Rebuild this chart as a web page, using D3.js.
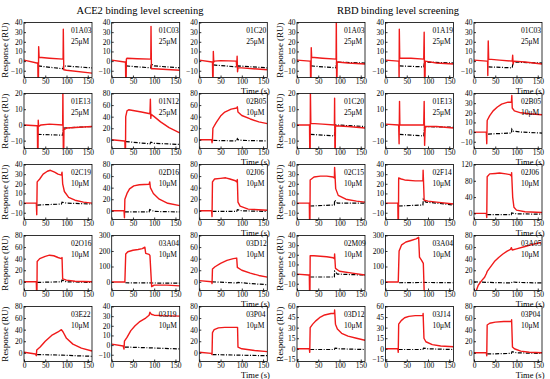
<!DOCTYPE html>
<html>
<head>
<meta charset="utf-8">
<script src="https://cdn.jsdelivr.net/npm/d3@7"></script>
<style>
  body { margin: 0; background: #fff; }
  text { font-family: "Liberation Serif", "Times New Roman", serif; fill: #000; }
</style>
</head>
<body>
<script>
// group titles and where they sit
const groupTitles = ["ACE2 binding level screening", "RBD binding level screening"];
const titleX = [140, 398];

// panel names, ACE2 first then RBD, row by row
const panelNames = [
  "01A03", "01C03", "01C20", "01E13", "01N12", "02B05", "02C19", "02D16", "02J06",
  "02O16", "03A04", "03D12", "03E22", "03J19", "03P04",
  "01A03", "01A19", "01C03", "01C20", "01E13", "02B05", "02C15", "02F14", "02J06",
  "02M09", "03A04", "03A05", "03D12", "03J14", "03P04"
];
const concentrations = [
  "25μM", "25μM", "25μM", "25μM", "25μM", "10μM", "10μM", "10μM", "10μM",
  "10μM", "10μM", "10μM", "10μM", "10μM", "10μM",
  "25μM", "25μM", "25μM", "25μM", "25μM", "10μM", "10μM", "10μM", "10μM",
  "10μM", "10μM", "10μM", "10μM", "10μM", "10μM"
];
// top of each y axis
const yMax = [
  40, 40, 40, 20, 80, 80, 40, 80, 80, 80, 300, 80, 80, 40, 80,
  40, 40, 40, 20, 20, 40, 40, 40, 120, 40, 300, 80, 60, 60, 80
];
const xTicks = [0, 50, 100, 150];

// sample response (red), [time, RU]
const redSeries = [
  // ACE2
  [[0,1],[30,-2],[32.5,-2],[33,-20],[34,-20],[34.5,15],[35.5,4],[60,3],[92,2],[92.5,33],[93.5,-9],[100,-9.5],[160,-12.5]],
  [[0,1],[30,-1],[32.5,-1],[33,-20],[34,-20],[34.5,2],[36,3],[60,2.5],[92,2],[92.5,36],[93.5,-8],[100,-8],[160,-9.5]],
  [[0,1],[30,-1],[31,-1],[31.5,-16],[32.5,-16],[33,10],[34,-1],[36,0],[50,0.5],[87,0],[88,-6],[89,5],[90,-11],[91,-7],[100,-7],[160,-9]],
  [[0,0],[30,-0.5],[31.5,-0.5],[32,-17],[33,-17],[33.5,3],[34.5,-1],[40,0],[60,0.5],[91,0],[91.5,22],[92.5,-17],[93.5,-17],[94,-3],[100,-2],[160,-1]],
  [[0,0],[30,-2],[31,-2],[31.5,-17],[32.5,-17],[33,40],[36,50],[40,52],[70,48],[90,45],[91,70],[92,37],[93,44],[100,40],[115,31],[135,21],[160,12]],
  [[0,0],[29,0],[30,-5],[31,0],[32,20],[40,30],[50,41],[60,48],[75,53],[88,55],[89.5,57],[91,48],[100,42],[120,36],[140,31],[160,28]],
  [[0,0],[29,0],[30,-12],[31,22],[37,25],[45,30],[55,33],[62,34],[72,32],[80,30],[88,29],[89.5,32],[91,20],[95,12],[105,6],[120,3],[140,1],[160,0]],
  [[0,0],[29,0],[30,-12],[31,20],[36,30],[42,38],[52,43],[65,45],[88,46],[89.5,50],[91,40],[98,30],[112,20],[132,13],[160,9]],
  [[0,0],[29,0],[30,-10],[31,50],[36,55],[50,56],[62,57],[72,55],[85,52],[88,50],[89.5,54],[91,15],[96,8],[115,3],[160,1]],
  [[0,0],[29,0],[29.5,-17],[30.5,-17],[31,35],[37,40],[50,44],[60,46],[70,45],[80,42],[88,40],[89.5,42],[91,5],[100,3],[120,1],[160,0]],
  [[0,0],[31,0],[33,180],[38,195],[50,205],[62,210],[72,215],[78,225],[80,185],[88,178],[90,170],[94,-30],[100,-20],[130,-20],[160,-25]],
  [[0,2],[29,0],[30,-3],[31,22],[37,26],[50,32],[65,37],[80,40],[88,41],[89.5,25],[100,20],[120,15],[140,11],[160,8]],
  [[0,1],[27,-2],[29,-5],[30,5],[38,10],[50,20],[65,30],[80,36],[88,40],[92,36],[100,25],[115,15],[135,8],[160,3]],
  [[0,1],[27,-1],[29,-4],[30,4],[36,8],[45,15],[55,20],[65,24],[80,28],[88,31],[90,34],[93,32],[100,31],[120,30.5],[160,30]],
  [[0,1],[28,-1],[30,-3],[31,35],[35,40],[45,43],[60,44],[80,44],[90,44],[91,10],[100,7],[130,4],[160,2]],
  // RBD
  [[0,1],[30,0],[31.5,0],[32,-20],[33,-20],[33.5,14],[34.5,4],[60,3],[92,2],[92.5,45],[93.2,-20],[94,-20],[94.5,-1],[120,-2],[160,-3]],
  [[0,1],[30,0],[31.5,0],[32,-20],[32.5,33],[33.5,3],[60,3],[90,2],[91,30],[91.8,-20],[93,-20],[93.5,0],[120,-2],[160,-3]],
  [[0,1],[30,0],[32,0],[32.5,-15],[33.5,21],[34.5,2],[60,1],[90,0],[91,6],[92,-3],[94,0],[120,-1],[160,-3]],
  [[0,0],[29.5,0],[30,-17],[31,-17],[31.5,22],[32.5,1],[60,0.5],[88,0],[88.5,17],[89.2,-17],[90,-17],[90.5,-0.5],[120,-1],[160,-2]],
  [[0,0.5],[31,0],[32,-12],[33,15],[33.8,0],[60,0],[90,0],[91,15],[92,-13],[93.5,-1],[120,-1],[160,-2]],
  [[0,0],[29,0],[30,-12],[31,12],[37,17],[45,22],[55,26],[65,29],[80,31],[88,31],[89,38],[90,25],[95,22],[110,20],[130,19],[160,18]],
  [[0,0],[29,0],[29.5,-18],[30.5,-18],[31,24],[40,27],[55,28],[70,28],[85,27],[88,26],[88.5,37],[91,15],[97,8],[115,4],[140,2],[160,1]],
  [[0,0],[29,0],[29.5,-18],[30.5,-18],[31,26],[37,25],[45,24],[70,23],[88,23],[88.5,34],[91,3],[100,2],[120,1],[160,-1]],
  [[0,0],[29,0],[30,-10],[31,90],[37,97],[50,98],[60,99],[75,97],[85,95],[88,92],[88.5,100],[91,40],[94,15],[100,8],[120,4],[160,2]],
  [[0,0],[27,-1],[29,-1],[29.5,-18],[30.5,-18],[31,19],[40,19],[70,18],[85,17],[88,16],[88.5,21],[90.5,6],[100,3],[130,1],[160,-1]],
  [[0,0],[30,0],[32,200],[38,240],[48,258],[60,268],[72,278],[78,288],[80,160],[85,140],[89,120],[91,-60],[100,-60]],
  [[4,-18],[10,-6],[18,2],[25,8],[29,14],[31,18],[38,25],[48,35],[58,42],[68,48],[78,53],[86,56],[88,59],[90,55],[100,57],[120,61],[140,65],[158,68]],
  [[0,0],[29,0],[30,-5],[31,30],[37,35],[45,40],[55,45],[65,48],[80,50],[88,50],[88.5,55],[90.5,35],[95,28],[105,22],[120,18],[140,15],[160,12]],
  [[0,0],[29,0],[30,-5],[31,35],[37,40],[45,44],[55,46],[70,47],[88,47],[88.5,50],[90.5,15],[95,10],[110,6],[130,4],[160,3]],
  [[0,0],[29,0],[30,-5],[31,48],[37,51],[50,53],[70,54],[88,54],[88.5,57],[90.5,10],[95,7],[110,3],[130,1],[160,0]]
];

// reference channel (black dash-dot), [time, RU]
const blackSeries = [
  // ACE2
  [[33,-5],[92,-8],[93,-5],[160,-7]],
  [[34,-5],[92,-7],[93,-3],[100,-5],[160,-7]],
  [[33,-4],[88,-6],[91,-5],[160,-7]],
  [[32,-6],[91,-6.5],[93,-2],[160,-1]],
  [[33,-3],[90,-7],[92,-4],[100,-6],[160,-8]],
  [[33,-1],[88,-2],[89.5,2],[92,0],[100,-1],[160,-2]],
  [[31,-2],[88,-1],[89.5,1],[100,0],[160,-1]],
  [[31,-2],[88,-2],[89.5,2],[100,-1],[160,-2]],
  [[31,-1],[88,-1],[89.5,2],[100,0],[160,-1]],
  [[31,-1],[88,0],[89.5,3],[100,0],[160,-1]],
  [[32,-5],[160,-8]],
  [[30,0],[89,-2],[91,-1],[120,-3],[160,-5]],
  [[31,-3],[90,-4],[120,-5],[160,-6]],
  [[31,-2],[100,-3],[160,-4]],
  [[31,-3],[90,-4],[160,-5]],
  // RBD
  [[33,-5],[92,-7],[93,-1],[160,-2]],
  [[33,-5],[90,-6],[92,-1],[160,-2]],
  [[34,-6],[90,-7],[92,-1],[160,-2]],
  [[32,-6],[88,-7],[90.5,0],[160,-1]],
  [[33,-6],[90,-7],[92,-1],[160,-1.5]],
  [[33,-2],[88,-1],[89,3],[92,1],[110,0],[160,-1]],
  [[31,-3],[88,-2],[88.5,3],[95,0],[160,0]],
  [[31,-3],[88,-2],[89,4],[95,1],[120,0],[160,-2]],
  [[31,-3],[88,-3],[88.5,1],[100,-1],[160,-2]],
  [[31,-3],[88,-3],[88.5,3],[95,0],[160,-1]],
  [[32,-5],[90,-3],[160,-5]],
  [[0,0],[30,-1],[88,-2],[90,0],[100,-1],[160,-2]],
  [[31,-1],[88,-1],[89.5,1],[100,0],[160,-1]],
  [[31,-1],[88,-1],[89.5,1],[100,0],[160,-1]],
  [[31,-2],[88,-1],[89.5,2],[100,0],[160,-1]]
];

// layout
const W = 550, H = 379;
const colLeft = [[24, 111.7, 199.3], [297, 385.5, 474]];
const panelW = 68, panelH = 55;
const rowTop = r => 22.5 + r * 71;

// axis settings for each y top
function yAxisSpec(top) {
  if (top === 20) return { min: -15, ticks: [-10, 0, 10, 20] };
  if (top === 40) return { min: -17, ticks: [-10, 0, 10, 20, 30, 40] };
  if (top === 60) return { min: -18, ticks: [-15, 0, 15, 30, 45, 60] };
  if (top === 80) return { min: -15, ticks: [0, 20, 40, 60, 80] };
  if (top === 120) return { min: -15, ticks: [0, 40, 80, 120] };
  return { min: -55, ticks: [0, 100, 200, 300] };
}

const svg = d3.select("body").append("svg")
  .attr("width", W)
  .attr("height", H);

// titles
svg.selectAll(".title")
  .data(groupTitles)
  .enter()
  .append("text")
  .attr("x", (d, g) => titleX[g])
  .attr("y", 14)
  .attr("text-anchor", "middle")
  .style("font-size", "10.5px")
  .text(d => d);

const line = d3.line();

panelNames.forEach((name, i) => {
  const g = i < 15 ? 0 : 1;
  const k = i % 15;
  const row = Math.floor(k / 3), col = k % 3;
  const x0 = colLeft[g][col], y0 = rowTop(row);
  const spec = yAxisSpec(yMax[i]);

  const x = d3.scaleLinear().domain([0, 160]).range([0, panelW]);
  const y = d3.scaleLinear().domain([spec.min, yMax[i]]).range([panelH, 0]);

  const p = svg.append("g").attr("transform", `translate(${x0},${y0})`);

  p.append("clipPath").attr("id", "clip" + i)
    .append("rect").attr("width", panelW).attr("height", panelH);

  const plot = p.append("g").attr("clip-path", `url(#clip${i})`);

  plot.append("path")
    .attr("d", line(blackSeries[i].map(d => [x(d[0]), y(d[1])])))
    .attr("fill", "none")
    .attr("stroke", "#000")
    .attr("stroke-width", 1.2)
    .attr("stroke-dasharray", "4,1.5,1,1.5");

  plot.append("path")
    .attr("d", line(redSeries[i].map(d => [x(d[0]), y(d[1])])))
    .attr("fill", "none")
    .attr("stroke", "#f01a1a")
    .attr("stroke-width", 1.4)
    .attr("stroke-linejoin", "round");

  // frame
  p.append("rect")
    .attr("width", panelW).attr("height", panelH)
    .attr("fill", "none").attr("stroke", "#000").attr("stroke-width", 0.8);

  // ticks point into the plot
  const ya = p.append("g")
    .call(d3.axisLeft(y).tickValues(spec.ticks).tickSize(-2).tickSizeOuter(0).tickPadding(1.5));
  const xa = p.append("g")
    .attr("transform", `translate(0,${panelH})`)
    .call(d3.axisBottom(x).tickValues(xTicks).tickSize(-2).tickSizeOuter(0).tickPadding(1.2));
  [ya, xa].forEach(a => {
    a.select(".domain").remove();
    a.selectAll("line").attr("stroke", "#000").attr("stroke-width", 0.8);
    a.selectAll("text").style("font-size", "7.5px").style("font-family", "'Liberation Serif', serif");
  });

  // labels in the corner
  p.append("text").attr("x", panelW - 21).attr("y", 10)
    .style("font-size", "7.5px").text(name);
  p.append("text").attr("x", panelW - 21).attr("y", 21)
    .style("font-size", "7.5px").text(concentrations[i]);

  if (col === 0) {
    p.append("text")
      .attr("transform", `translate(${g === 0 ? -16 : -14},${panelH / 2}) rotate(-90)`)
      .attr("text-anchor", "middle")
      .style("font-size", "9px")
      .text("Response (RU)");
  }
  if (col === 2) {
    p.append("text")
      .attr("x", panelW + 2.5).attr("y", panelH + 16)
      .attr("text-anchor", "end")
      .style("font-size", "8.5px")
      .text("Time (s)");
  }
});
</script>
</body>
</html>
